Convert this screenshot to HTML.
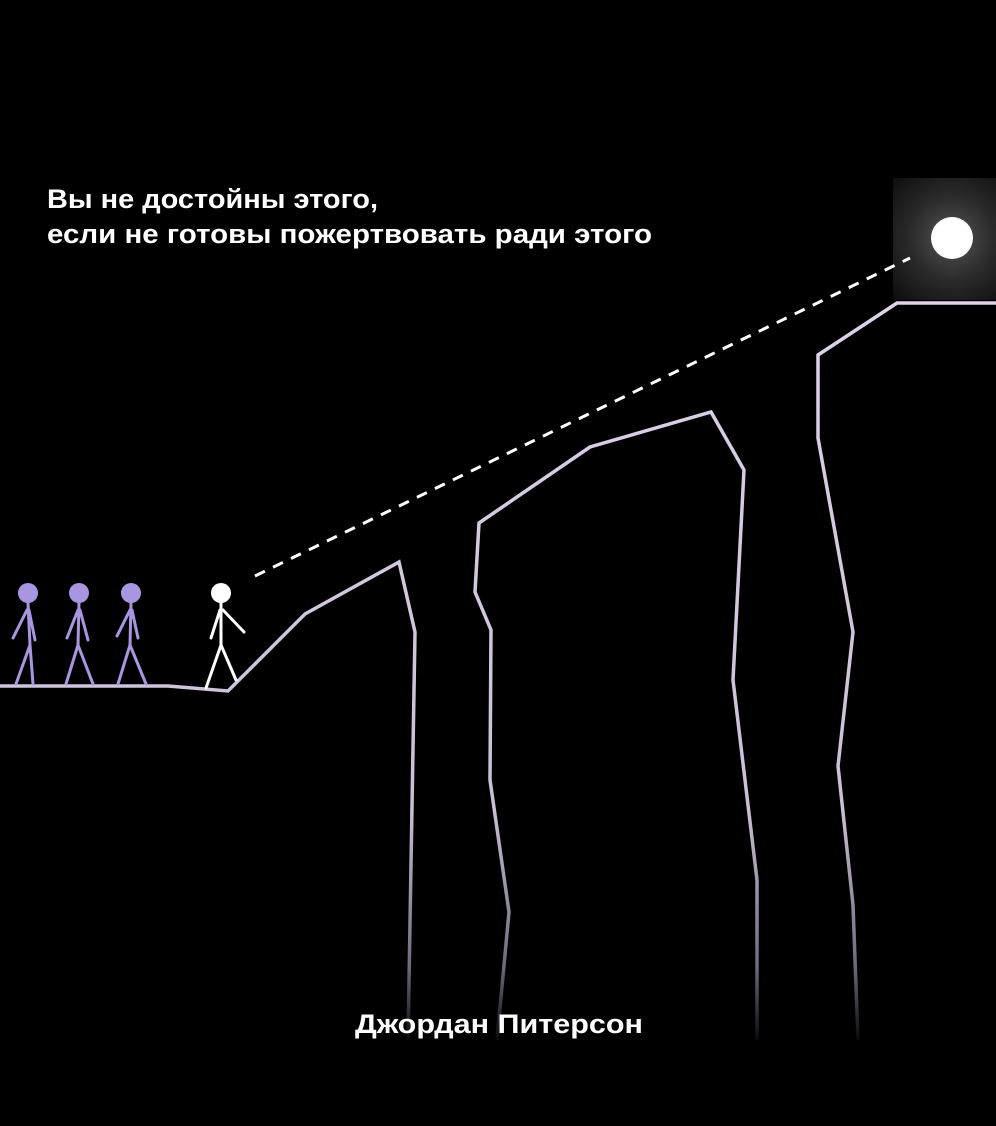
<!DOCTYPE html>
<html><head><meta charset="utf-8">
<style>
html,body{margin:0;padding:0;background:#000;}
svg{display:block;}
text{font-family:"Liberation Sans","DejaVu Sans",sans-serif;}
</style></head>
<body>
<svg width="996" height="1126" viewBox="0 0 996 1126" xmlns="http://www.w3.org/2000/svg">
<defs>
<linearGradient id="fade" gradientUnits="userSpaceOnUse" x1="0" y1="0" x2="0" y2="1126">
<stop offset="0" stop-color="#eadff5"/>
<stop offset="0.72" stop-color="#c9bfd6"/>
<stop offset="0.86" stop-color="#6d6878"/>
<stop offset="0.93" stop-color="#000"/>
</linearGradient>
<radialGradient id="glow" cx="952" cy="238" r="85" gradientUnits="userSpaceOnUse">
<stop offset="0" stop-color="#555"/>
<stop offset="0.5" stop-color="#2a2a2a"/>
<stop offset="1" stop-color="#0d0d0d"/>
</radialGradient>
</defs>
<rect width="996" height="1126" fill="#000"/>
<rect x="893" y="178" width="103" height="122" fill="url(#glow)"/>
<circle cx="952" cy="238" r="21" fill="#fff"/>
<line x1="255" y1="576" x2="910" y2="258" stroke="#fff" stroke-width="3" stroke-dasharray="11 9"/>
<g fill="none" stroke="url(#fade)" stroke-width="3.5" stroke-linejoin="miter">
<polyline points="0,686 168,686 228,691 305,614 399,562 415,632 408,1040"/>
<polyline points="497,1040 509,912 490,780 491,630 475,592 479,523 590,447 711,412 744,470 733,680 757,880 757,1040"/>
<polyline points="996,303 897,303 818,355 818,438 853,632 838,766 853,905 858,1040"/>
</g>
<g fill="none" stroke="#a995e0" stroke-width="3" stroke-linecap="round">
<g>
<circle cx="28" cy="593" r="10" fill="#a995e0" stroke="none"/>
<path d="M28 603 L30 645 M27 610 L13 638 M29 610 L35 640 M30 645 L16 684 M30 645 L33 684"/>
</g>
<g>
<circle cx="79" cy="593" r="10" fill="#a995e0" stroke="none"/>
<path d="M79 603 L78 645 M78 610 L67 638 M80 610 L88 640 M78 645 L66 684 M78 645 L93 684"/>
</g>
<g>
<circle cx="131" cy="593" r="10" fill="#a995e0" stroke="none"/>
<path d="M131 603 L130 645 M130 610 L117 636 M132 610 L138 638 M130 645 L118 684 M130 645 L146 684"/>
</g>
</g>
<g fill="none" stroke="#fff" stroke-width="3" stroke-linecap="round">
<circle cx="221" cy="593" r="10" fill="#fff" stroke="none"/>
<path d="M221 603 L221 645 M220 610 L211 638 M223 610 L244 632 M221 645 L206 688 M221 645 L236 680"/>
</g>
<text x="47" y="208" fill="#fff" font-size="27" font-weight="bold" textLength="331" lengthAdjust="spacingAndGlyphs">Вы не достойны этого,</text>
<text x="47" y="243" fill="#fff" font-size="27" font-weight="bold" textLength="605" lengthAdjust="spacingAndGlyphs">если не готовы пожертвовать ради этого</text>
<text x="355" y="1033" fill="#fff" font-size="27" font-weight="bold" textLength="288" lengthAdjust="spacingAndGlyphs">Джордан Питерсон</text>
</svg>
</body></html>
